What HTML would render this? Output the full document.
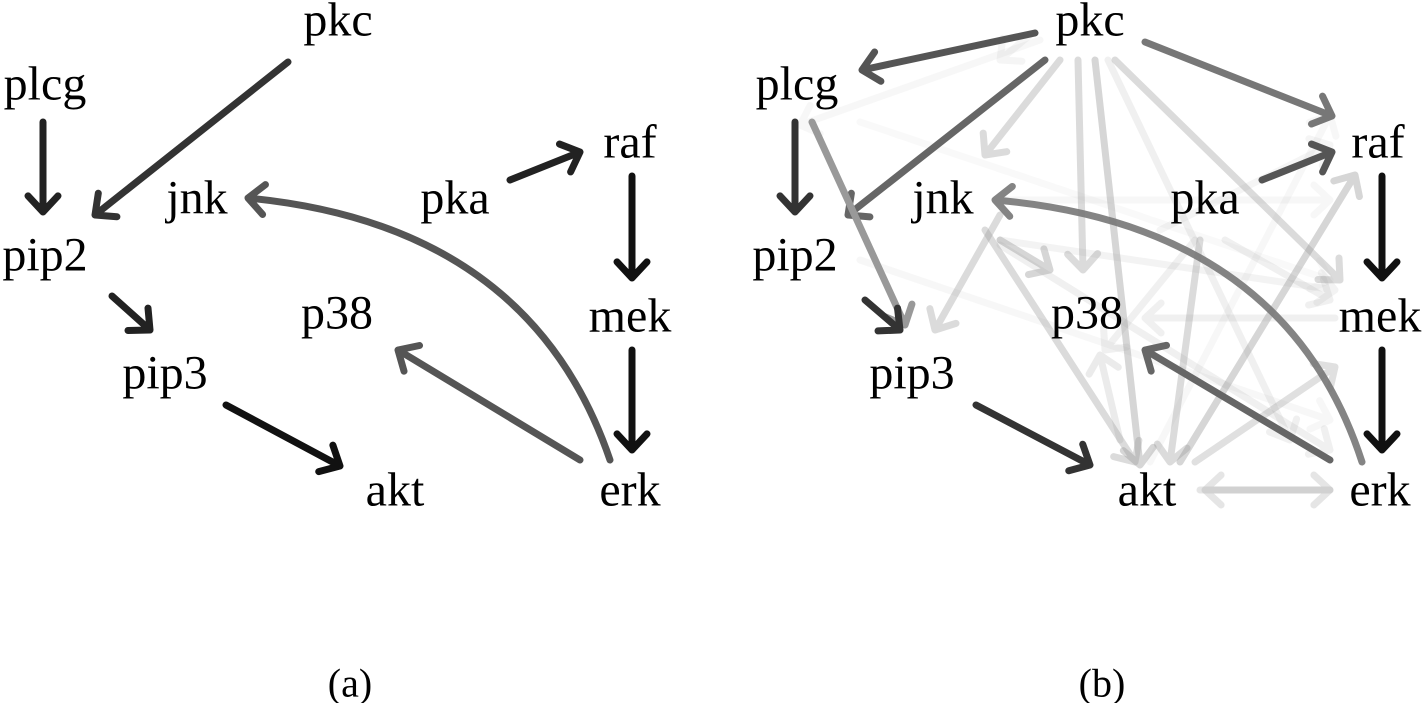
<!DOCTYPE html>
<html><head><meta charset="utf-8"><style>
html,body{margin:0;padding:0;background:#fff;}
svg{display:block;}
text{font-family:"Liberation Serif",serif;font-size:48px;fill:#000;}
</style></head><body>
<svg id="s" width="1425" height="703" viewBox="0 0 1425 703" xmlns="http://www.w3.org/2000/svg">
<g id="edges" fill="none" stroke-linecap="round" stroke-linejoin="round"></g>
<g text-anchor="middle" dominant-baseline="central">
<text x="338" y="20">pkc</text>
<text x="45" y="84">plcg</text>
<text x="197" y="198">jnk</text>
<text x="455" y="198">pka</text>
<text x="630" y="142">raf</text>
<text x="45" y="255">pip2</text>
<text x="337" y="313">p38</text>
<text x="630" y="316">mek</text>
<text x="165" y="373">pip3</text>
<text x="395" y="490">akt</text>
<text x="630" y="490">erk</text>

<text x="1090" y="20">pkc</text>
<text x="797" y="84">plcg</text>
<text x="943" y="198">jnk</text>
<text x="1205" y="198">pka</text>
<text x="1378" y="142">raf</text>
<text x="795" y="255">pip2</text>
<text x="1087" y="313">p38</text>
<text x="1380" y="316">mek</text>
<text x="912" y="373">pip3</text>
<text x="1147" y="490">akt</text>
<text x="1380" y="490">erk</text>

<text x="350" y="683" style="font-size:40px">(a)</text>
<text x="1102" y="683" style="font-size:40px">(b)</text>
</g>
</svg>
<script>
var g=document.getElementById('edges'),NS='http://www.w3.org/2000/svg';
function head(x,y,ang){var L=22,a=0.75;
 var p1=[x-L*Math.cos(ang-a),y-L*Math.sin(ang-a)],p2=[x-L*Math.cos(ang+a),y-L*Math.sin(ang+a)];
 return 'M'+p1[0]+','+p1[1]+' L'+x+','+y+' L'+p2[0]+','+p2[1];}
function E(x1,y1,x2,y2,col,op,cx,cy){
 var gg=document.createElementNS(NS,'g');gg.setAttribute('opacity',op);
 var p=document.createElementNS(NS,'path');var d,ang;
 if(cx!==undefined){d='M'+x1+','+y1+' Q'+cx+','+cy+' '+x2+','+y2;ang=Math.atan2(y2-cy,x2-cx);}
 else{d='M'+x1+','+y1+' L'+x2+','+y2;ang=Math.atan2(y2-y1,x2-x1);}
 p.setAttribute('d',d+' '+head(x2,y2,ang));p.setAttribute('stroke',col);p.setAttribute('stroke-width',7);
 gg.appendChild(p);g.appendChild(gg);}
// panel a
E(43,122,43,212,'#222',1);
E(288,62,95,215,'#333',1);
E(510,180,580,152,'#222',1);
E(632,176,632,278,'#111',1);
E(632,350,632,450,'#111',1);
E(112,296,150,330,'#222',1);
E(226,405,340,466,'#111',1);
E(580,460,398,350,'#555',1);
E(610,460,248,198,'#555',1,530,225);
// panel b faint
var F='#999';
E(1200,490,1330,490,F,0.25);E(1330,490,1205,490,F,0.25);
E(1335,318,1145,318,F,0.15);
E(1000,240,1335,290,F,0.12);
E(1000,200,1330,200,F,0.08);
E(860,122,1330,280,F,0.06);
E(1180,462,1355,175,F,0.4);
E(1150,462,1330,115,F,0.08);
E(1195,462,1335,367,F,0.3);
E(985,230,1135,462,F,0.35);
E(1000,215,935,330,F,0.35);
E(1200,240,1170,462,F,0.35);
E(1195,240,1105,350,F,0.15);
E(1225,240,1330,300,F,0.15);
E(1000,240,1050,270,F,0.4);
E(1000,245,1330,450,F,0.15);
E(1060,60,985,155,F,0.35);
E(1078,60,1083,270,F,0.35);
E(1095,60,1140,465,F,0.4);
E(1115,60,1340,280,F,0.35);
E(1108,60,1290,440,F,0.15);
E(1040,40,800,125,F,0.08);
E(1030,35,1000,60,F,0.1);
E(1160,230,1330,145,F,0.1);
E(860,260,1330,420,F,0.08);
E(1120,440,1100,355,F,0.2);
// panel b strong
E(1035,33,862,70,'#555',1);
E(1145,42,1332,116,'#777',1);
E(1045,60,848,215,'#666',1);
E(795,122,795,212,'#333',1);
E(812,122,905,325,'#999',1);
E(865,300,900,330,'#333',1);
E(976,405,1090,465,'#333',1);
E(1262,180,1332,152,'#555',1);
E(1382,176,1382,278,'#111',1);
E(1382,350,1382,450,'#111',1);
E(1330,460,1145,350,'#666',1);
E(1362,462,995,200,'#777',0.9,1285,225);
</script>
</body></html>
